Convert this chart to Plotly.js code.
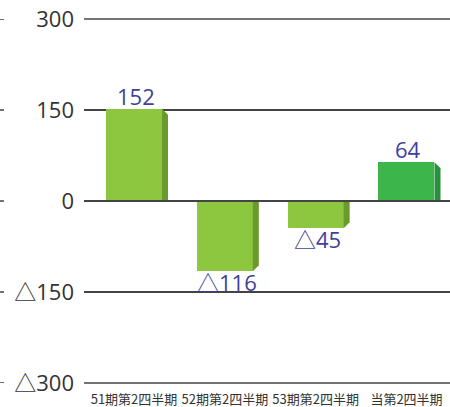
<!DOCTYPE html>
<html>
<head>
<meta charset="utf-8">
<script src="https://cdn.plot.ly/plotly-3.0.1.min.js"></script>
<style>html,body{margin:0;padding:0;background:#fff;}#chart{width:450px;height:407px;}</style>
</head>
<body>
<div id="chart"></div>
<script>
var categories = ["51期第2四半期", "52期第2四半期", "53期第2四半期", "当第2四半期"];
var values = [152, -116, -45, 64];
var valueLabels = ["152", "△116", "△45", "64"];
var tickValues = [-300, -150, 0, 150, 300];
var tickLabels = ["△300", "△150", "0", "150", "300"];

var frontColors = ["#8dc63f", "#8dc63f", "#8dc63f", "#3cb54a"];
var sideColors = ["#6a9a2e", "#6a9a2e", "#6a9a2e", "#28923a"];

var L = 84, W = 450, H = 407, T = 19, B = 24;
var plotW = W - L;
var pxPerUnit = 90.83;
var r0 = -(134 - L) / pxPerUnit;
var r1 = r0 + plotW / pxPerUnit;
var yPx = (H - T - B) / 600;
var barW = 56 / pxPerUnit;
var dx = 6 / pxPerUnit;
var dy = 6 / yPx;

var xs = categories.map(function(c, i){ return i; });

var traces = [{
  type: "bar",
  x: xs,
  y: values,
  width: barW,
  marker: {color: frontColors, line: {width: 0}},
  hoverinfo: "none"
}];

values.forEach(function(v, i){
  var xr = i + barW / 2;
  var far = v > 0 ? Math.max(v - dy, 0) : Math.min(v + dy, 0);
  traces.push({
    type: "scatter",
    mode: "lines",
    x: [xr, xr, xr + dx, xr + dx, xr],
    y: [0, v, far, 0, 0],
    fill: "toself",
    fillcolor: sideColors[i],
    line: {width: 0, color: sideColors[i]},
    hoverinfo: "none",
    showlegend: false
  });
});

var annotations = values.map(function(v, i){
  return {
    x: i + 0.02, y: v, xref: "x", yref: "y",
    text: valueLabels[i], showarrow: false,
    yanchor: v >= 0 ? "bottom" : "top",
    yshift: v >= 0 ? -4 : 6,
    font: {family: "Open Sans, Noto Sans CJK JP", size: 22, color: "#3f3f9c"}
  };
});

var shapes = tickValues.map(function(t){
  return {type: "line", xref: "paper", yref: "y", x0: -L / plotW, x1: -(L - 4) / plotW, y0: t, y1: t,
          line: {color: "#444", width: 1.5}};
});
[1, 0].forEach(function(p){
  shapes.push({type: "line", xref: "paper", yref: "paper", x0: 0, x1: 1, y0: p, y1: p, layer: "below",
               line: {color: "#444", width: 1.5}});
});
shapes.push({type: "line", xref: "paper", yref: "y", x0: 0, x1: 1, y0: 0, y1: 0, layer: "above",
             line: {color: "#444", width: 2}});

var layout = {
  width: W, height: H,
  margin: {l: L, r: 0, t: T, b: B, pad: 0},
  paper_bgcolor: "#fff", plot_bgcolor: "#fff",
  showlegend: false,
  bargap: 0,
  xaxis: {
    range: [r0, r1],
    tickvals: xs, ticktext: categories,
    showgrid: false, zeroline: false, showline: false,
    ticks: "", ticklabelstandoff: 7,
    tickfont: {family: "Noto Sans CJK JP", size: 13, color: "#333"},
    fixedrange: true
  },
  yaxis: {
    range: [-300, 300],
    tickvals: tickValues, ticktext: tickLabels,
    showgrid: true, gridcolor: "#444", gridwidth: 1.5,
    zeroline: false, showline: false,
    ticks: "", ticklabelstandoff: 9,
    tickfont: {family: "Open Sans, Noto Sans CJK JP", size: 22, color: "#333"},
    fixedrange: true
  },
  annotations: annotations,
  shapes: shapes
};

Plotly.newPlot("chart", traces, layout, {displayModeBar: false, staticPlot: true});
</script>
</body>
</html>
